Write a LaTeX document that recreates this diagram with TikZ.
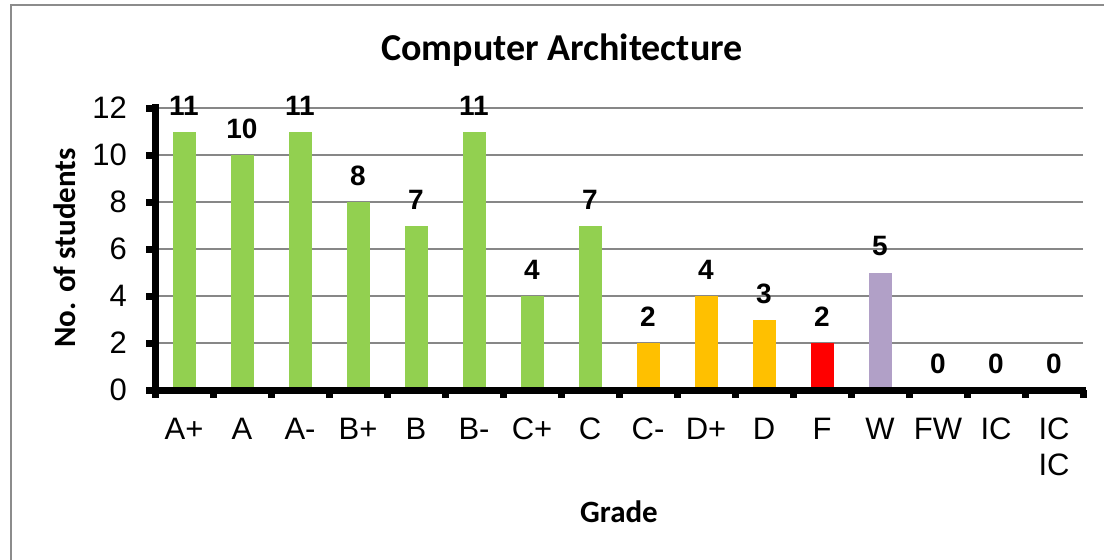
\documentclass[tikz,border=0pt]{standalone}
\usepackage{fontspec}
\setmainfont{Liberation Sans}
\newfontfamily\calibri{Carlito}
\definecolor{gradegreen}{HTML}{92D050}
\definecolor{gradeorange}{HTML}{FFC000}
\definecolor{gradered}{HTML}{FF0000}
\definecolor{gradepurple}{HTML}{B1A0C7}
\definecolor{gridgray}{HTML}{878787}
\definecolor{framegray}{HTML}{8C8C8C}

\begin{document}
\begin{tikzpicture}[x=1pt,y=-1pt,
    grid line/.style={draw=gridgray,line width=2.4pt},
    axis line/.style={draw=black,line width=7pt},
    ticklabel/.style={font=\fontsize{31}{36}\selectfont,inner sep=0pt},
    valuelabel/.style={font=\fontsize{28}{32}\selectfont\bfseries,inner sep=0pt},
    titlelabel/.style={font=\calibri\fontsize{38}{44}\selectfont\bfseries,inner sep=0pt},
    axislabel/.style={font=\calibri\fontsize{31}{36}\selectfont\bfseries,inner sep=0pt}]
  \useasboundingbox (0,0) rectangle (1104,560);

  % chart frame
  \draw[framegray,line width=2pt] (11,580) -- (11,5) -- (1120,5);

  \node[titlelabel] (title) at (562,50) {Computer Architecture};

  % gridlines and y ticks
  \foreach \v in {2,4,...,12}
    \draw[grid line] (155,{390-23.5*\v}) -- (1083,{390-23.5*\v});
  \foreach \v in {0,2,...,12} {
    \draw[axis line,line cap=butt] (146,{390-23.5*\v}) -- (155,{390-23.5*\v});
    \node[ticklabel,anchor=east] (ytick\v) at (127,{390-23.5*\v}) {\v};
  }

  % bars
  \foreach \val/\col/\lab [count=\i from 0] in
      {11/gradegreen/A+, 10/gradegreen/A, 11/gradegreen/A-, 8/gradegreen/B+,
       7/gradegreen/B, 11/gradegreen/B-, 4/gradegreen/C+, 7/gradegreen/C,
       2/gradeorange/C-, 4/gradeorange/D+, 3/gradeorange/D, 2/gradered/F,
       5/gradepurple/W, 0/white/FW, 0/white/IC, 0/white/{IC\\IC}} {
    \fill[\col] ({184+58*\i-11.5},{390-23.5*\val}) rectangle ({184+58*\i+11.5},390);
    \node[valuelabel] (val\i) at ({184+58*\i},{390-23.5*\val-26}) {\val};
    \node[ticklabel,anchor=north,align=center] (grade\i) at ({184+58*\i},418) {\lab};
  }

  % axes
  \foreach \i in {1,...,16}
    \draw[axis line,line cap=butt] ({155+58*\i},390) -- ({155+58*\i},398);
  \draw[axis line,line cap=butt] (155,104) -- (155,398);
  \draw[axis line,line cap=butt] (151.5,390) -- (1086,390);

  \node[axislabel,rotate=90] (ylabel) at (65,248) {No. of students};
  \node[axislabel] (xlabel) at (619,512) {Grade};
\end{tikzpicture}
\end{document}
